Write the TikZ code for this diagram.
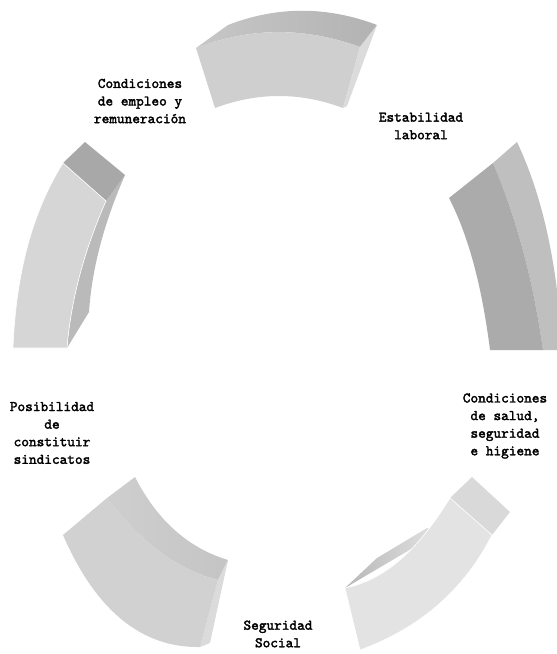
\documentclass[tikz,border=0pt]{standalone}
\usepackage{fontspec}
\newfontfamily\lblfont{lmmono10-regular.otf}[FakeBold=2.2]
\begin{document}
\begin{tikzpicture}[
    x = 1pt, y = -1pt,
    txt/.style = {align=center, inner sep=0pt,
      font=\lblfont\fontsize{14.6}{17.6}\selectfont},
    rim/.style = {draw=white, line width=0.6pt}
    ]
  \useasboundingbox (0,0) rectangle (557,654);

  % top segment
  \shade[left color=black!22, right color=black!30]
    (196,48) -- (228,25) .. controls (277,6) and (327,6) .. (377,25)
    -- (360,47) .. controls (305,27) and (251,27) .. cycle;
  \fill[black!19] (196,48) .. controls (251,27) and (305,27) .. (360,47)
    -- (343,108) .. controls (300,92) and (258,92) .. (215,108) -- cycle;
  \fill[black!14] (360,47) -- (377,25) -- (347,106) -- (343,108) -- cycle;

  % right segment
  \fill[black!25] (493,163) -- (517,142) .. controls (543,197) and (558,266) .. (562,350)
    -- (543,350) .. controls (533,279) and (516,217) .. cycle;
  \fill[black!33] (449,198) -- (493,163) .. controls (516,217) and (533,279) .. (543,350)
    -- (490,350) .. controls (482,287) and (469,237) .. cycle;

  % bottom right segment
  \shade[left color=black!28, right color=black!11]
    (345,588) -- (377,558) -- (427,528) -- (440,532) -- cycle;
  \fill[black!15] (472,477) -- (510,512) -- (492,535) -- (450,498) -- cycle;
  \fill[black!11, rim] (450,498) -- (492,535) .. controls (464,590) and (420,628) .. (360,650)
    -- (345,588) .. controls (385,580) and (418,550) .. cycle;

  % bottom left segment
  \shade[left color=black!19, right color=black!23]
    (135,477) .. controls (157,520) and (188,548) .. (228,560) -- (218,580)
    .. controls (178,570) and (141,543) .. (107,498) -- cycle;
  \fill[black!14] (218,580) -- (228,560) -- (210,643) -- (200,647) -- cycle;
  \fill[black!18] (63,535) -- (107,498) .. controls (141,543) and (178,570) .. (218,580)
    -- (200,647) .. controls (142,648) and (96,611) .. cycle;

  % left segment
  \fill[black!27] (106,201) -- (125,175) .. controls (104,223) and (92,268) .. (89,312)
    -- (67,348) .. controls (71,300) and (84,251) .. cycle;
  \fill[black!34] (63,163) -- (85,142) -- (125,175) -- (106,201) -- cycle;
  \fill[black!16, rim] (63,163) -- (106,201) .. controls (84,251) and (71,300) .. (67,348)
    -- (13,348) .. controls (16,272) and (33,211) .. cycle;

  \node[txt] (empleo) at (140,101) {Condiciones\\de empleo y\\remuneración};
  \node[txt] (estabilidad) at (421,126) {Estabilidad\\laboral};
  \node[txt] (salud) at (505,426) {Condiciones\\de salud,\\seguridad\\e higiene};
  \node[txt] (social) at (278,634) {Seguridad\\Social};
  \node[txt] (sindicatos) at (52,433) {Posibilidad\\de\\constituir\\sindicatos};

\end{tikzpicture}
\end{document}
